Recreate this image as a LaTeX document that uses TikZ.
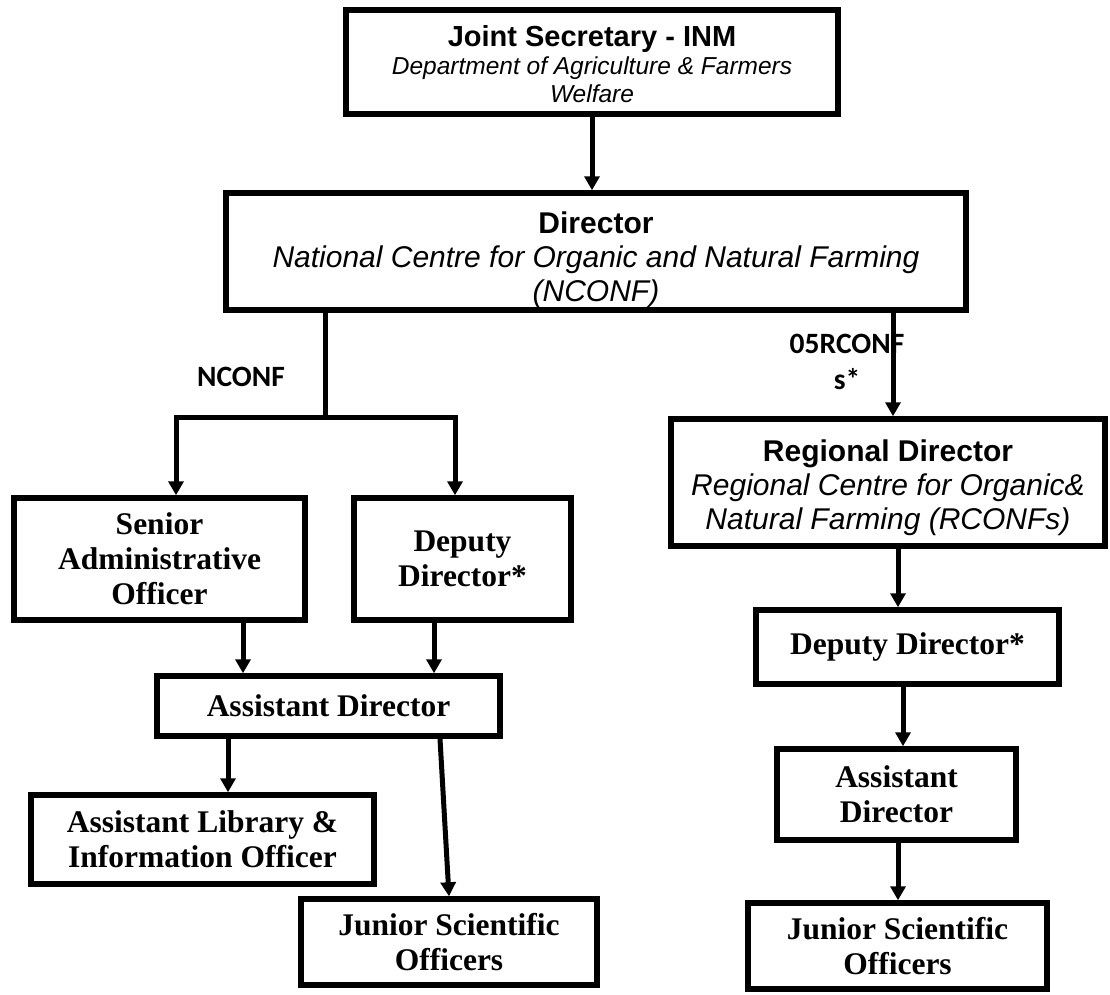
\documentclass[tikz,border=0pt]{standalone}
\usepackage{fontspec}
\setmainfont{Liberation Serif}
\newfontfamily\arialf{Liberation Sans}
\newfontfamily\calf{Carlito}
\usetikzlibrary{arrows.meta}
\begin{document}
\begin{tikzpicture}[x=1pt,y=1pt,
  box/.style={draw, line width=5.5pt, inner sep=0pt, align=center},
  hbox/.style={box, font=\arialf\fontsize{30}{34}\selectfont},
  sbox/.style={box, font=\bfseries\fontsize{31.5}{35}\selectfont},
  arr/.style={line width=5pt, -{Triangle[length=14pt,width=15pt]}},
  conn/.style={line width=5pt},
  lab/.style={font=\calf\bfseries\fontsize{29.5}{36}\selectfont, align=center, inner sep=0pt}
]
\useasboundingbox (0,0) rectangle (1110,-994);

\node[box, font=\arialf\fontsize{24.5}{28}\selectfont, minimum width=492pt, minimum height=104pt] (js) at (592,-62)
  {\rule{0pt}{25pt}{\fontsize{29}{28}\selectfont\bfseries Joint Secretary - INM}\\\textit{Department of Agriculture \& Farmers}\\\textit{Welfare}};
\node[hbox, minimum width=740pt, minimum height=117pt] (dir) at (596,-251.5)
  {\rule{0pt}{37.5pt}\textbf{Director}\\\textit{National Centre for Organic and Natural Farming}\\\textit{(NCONF)}};
\node[hbox, minimum width=434pt, minimum height=127pt] (reg) at (888,-482.5)
  {\rule{0pt}{31.5pt}\textbf{Regional Director}\\\textit{Regional Centre for Organic\&}\\\textit{Natural Farming (RCONFs)}};

\node[sbox, minimum width=291pt, minimum height=122pt] (sao) at (159.5,-559) {Senior\\Administrative\\Officer};
\node[sbox, minimum width=217pt, minimum height=122pt] (ddl) at (462.5,-559) {Deputy\\Director*};
\node[sbox, minimum width=343pt, minimum height=60pt] (adl) at (328.5,-706) {Assistant Director};
\node[sbox, minimum width=343pt, minimum height=89pt] (alio) at (202.5,-839.5) {Assistant Library \&\\Information Officer};
\node[sbox, minimum width=296pt, minimum height=86pt] (jsol) at (449,-942) {Junior Scientific\\Officers};
\node[sbox, minimum width=303pt, minimum height=74pt] (ddr) at (907.5,-647) {Deputy Director*};
\node[sbox, minimum width=239pt, minimum height=91pt] (adr) at (896.5,-794.5) {Assistant\\Director};
\node[sbox, minimum width=299pt, minimum height=86pt] (jsor) at (897.5,-946) {Junior Scientific\\Officers};

\node[lab] (lnconf) at (241,-377) {NCONF};
\node[lab] (lrconf) at (847,-362) {05RCONF\\s*};

\draw[arr] (js.south) -- (js.south |- dir.north);
\coordinate (split) at (325,-417);
\draw[conn] ([xshift=-271pt]dir.south) -- (split);
\draw[arr] (split) -| ([xshift=16.5pt]sao.north);
\draw[arr] (split) -| ([xshift=-7.5pt]ddl.north);
\draw[arr] ([xshift=297pt]dir.south) -- ([xshift=5pt]reg.north);
\draw[arr] ([xshift=83.5pt]sao.south) -- ([xshift=-85.5pt]adl.north);
\draw[arr] ([xshift=-28.5pt]ddl.south) -- ([xshift=105.5pt]adl.north);
\draw[arr] ([xshift=-100.5pt]adl.south) -- ([xshift=25.5pt]alio.north);
\draw[arr] ([xshift=111.5pt]adl.south) -- (jsol.north);
\draw[arr] ([xshift=10pt]reg.south) -- ([xshift=-9.5pt]ddr.north);
\draw[arr] ([xshift=-4.5pt]ddr.south) -- ([xshift=6.5pt]adr.north);
\draw[arr] ([xshift=1.5pt]adr.south) -- ([xshift=0.5pt]jsor.north);
\end{tikzpicture}
\end{document}
